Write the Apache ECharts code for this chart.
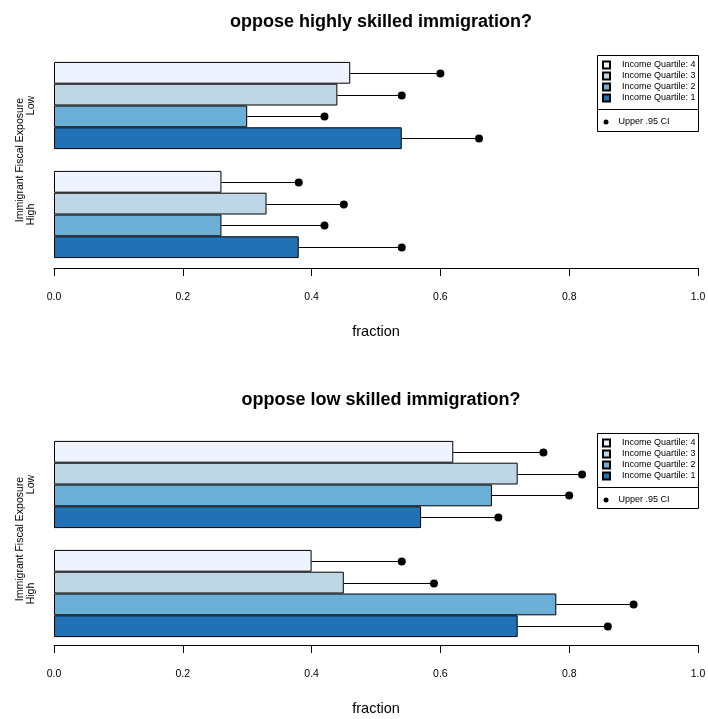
<!DOCTYPE html>
<html>
<head>
<meta charset="utf-8">
<script src="https://cdn.jsdelivr.net/npm/echarts@6/dist/echarts.min.js"></script>
<style>
  html, body { margin: 0; padding: 0; background: #fff; }
  #chart { width: 708px; height: 719px; }
</style>
</head>
<body>
<div id="chart"></div>
<script>
// ---------- data ----------
const categories = ['High', 'Low'];
const quartiles = ['Income Quartile: 4', 'Income Quartile: 3', 'Income Quartile: 2', 'Income Quartile: 1'];
const ciName = 'Upper .95 CI';
const titles = ['oppose highly skilled immigration?', 'oppose low skilled immigration?'];
const xTicks = [0, 0.2, 0.4, 0.6, 0.8, 1.0];

// fraction per quartile (rows: Q4, Q3, Q2, Q1), columns follow categories [High, Low]
const highlyValues = [
  [0.26, 0.46],
  [0.33, 0.44],
  [0.26, 0.30],
  [0.38, 0.54]
];
const highlyUpper = [
  [0.38, 0.60],
  [0.45, 0.54],
  [0.42, 0.42],
  [0.54, 0.66]
];
const lowValues = [
  [0.40, 0.62],
  [0.45, 0.72],
  [0.78, 0.68],
  [0.72, 0.57]
];
const lowUpper = [
  [0.54, 0.76],
  [0.59, 0.82],
  [0.90, 0.80],
  [0.86, 0.69]
];

// ---------- styles ----------
const colors = ['#eff3ff', '#bdd7e7', '#6baed6', '#2171b5'];
const FONT = '"Liberation Sans", Arial, Helvetica, sans-serif';
const CAT_GAP = 0.2;

const chart = echarts.init(document.getElementById('chart'), null, { renderer: 'canvas' });

const panels = [
  { values: highlyValues, upper: highlyUpper, gridTop: 51, axisOffset: -1, box: [597.5, 55.5, 101, 76, 109.5], titleTop: 8 },
  { values: lowValues, upper: lowUpper, gridTop: 430, axisOffset: -3, box: [597.5, 433.5, 101, 75, 487.5], titleTop: 386 }
];

const grids = [], xAxes = [], yAxes = [], series = [], legends = [], titleComps = [], graphics = [];

function renderCI(params, api) {
  const cat = api.value(0);
  const v = api.value(1);
  const up = api.value(2);
  const q = api.value(3);
  const band = api.size([0, 1])[1];
  const bw = band * (1 - CAT_GAP) / quartiles.length;
  const start = api.coord([v, cat]);
  const end = api.coord([up, cat]);
  const y = Math.round(start[1] - band * (1 - CAT_GAP) / 2 + bw * (q + 0.5)) + 0.5;
  return {
    type: 'group',
    children: [
      { type: 'line', shape: { x1: start[0], y1: y, x2: end[0], y2: y }, style: { stroke: '#000', lineWidth: 1 } },
      { type: 'circle', shape: { cx: end[0], cy: y, r: 4 }, style: { fill: '#000' } }
    ]
  };
}

panels.forEach((p, gi) => {
  grids.push({ left: 54, right: 10, top: p.gridTop, height: 218, containLabel: false, outerBoundsMode: 'none' });
  xAxes.push({
    type: 'value', gridIndex: gi, min: 0, max: 1, interval: 0.2, offset: p.axisOffset,
    name: 'fraction', nameLocation: 'middle', nameGap: 56, nameMoveOverlap: false,
    nameTextStyle: { fontFamily: FONT, fontSize: 14.5, color: '#000' },
    axisLine: { show: true, lineStyle: { color: '#000', width: 1 } },
    axisTick: { show: true, length: 8, lineStyle: { color: '#000' } },
    axisLabel: { margin: 24, fontFamily: FONT, fontSize: 10.5, color: '#000',
      formatter: v => xTicks.includes(+v.toFixed(1)) ? v.toFixed(1) : '' },
    splitLine: { show: false }
  });
  yAxes.push({
    type: 'category', gridIndex: gi, data: categories,
    name: 'Immigrant Fiscal Exposure', nameLocation: 'middle', nameGap: 28, nameMoveOverlap: false,
    nameTextStyle: { fontFamily: FONT, fontSize: 10.5, color: '#000' },
    axisLine: { show: false }, axisTick: { show: false },
    axisLabel: { rotate: 90, margin: 17, fontFamily: FONT, fontSize: 10.5, color: '#000' },
    splitLine: { show: false }
  });
  quartiles.forEach((q, qi) => {
    series.push({
      type: 'bar', name: q, xAxisIndex: gi, yAxisIndex: gi,
      data: p.values[qi],
      barGap: '0%', barCategoryGap: (CAT_GAP * 100) + '%',
      itemStyle: { color: colors[qi], borderColor: '#000', borderWidth: 1 },
      emphasis: { disabled: true },
      animation: false
    });
  });
  const ciData = [];
  quartiles.forEach((q, qi) => {
    categories.forEach((c, ci) => {
      ciData.push([ci, p.values[qi][ci], p.upper[qi][ci], qi]);
    });
  });
  series.push({
    type: 'custom', name: ciName, xAxisIndex: gi, yAxisIndex: gi,
    renderItem: renderCI, data: ciData,
    encode: { x: [1, 2], y: 0 },
    itemStyle: { color: '#000' },
    animation: false, z: 1
  });
  const b = p.box;
  legends.push({
    orient: 'vertical', left: 602, top: b[1] + 5, padding: 0,
    itemWidth: 7, itemHeight: 7, itemGap: 2, icon: 'rect',
    data: quartiles,
    selectedMode: false,
    textStyle: { fontFamily: FONT, fontSize: 9, color: '#000', padding: [0, 0, 0, 7] }
  });
  legends.push({
    orient: 'vertical', left: 603.5, top: b[4] + 8, padding: 0,
    itemWidth: 5, itemHeight: 5,
    data: [{ name: ciName, icon: 'circle' }],
    selectedMode: false,
    textStyle: { fontFamily: FONT, fontSize: 9, color: '#000', padding: [0, 0, 0, 5] }
  });
  titleComps.push({
    text: titles[gi], left: 376, top: p.titleTop, textAlign: 'center',
    textStyle: { fontFamily: FONT, fontSize: 18, fontWeight: 'bold', color: '#000' }
  });
  graphics.push({
    type: 'rect', shape: { x: b[0], y: b[1], width: b[2], height: b[3] },
    style: { fill: 'none', stroke: '#000', lineWidth: 1 }, z: 10
  });
  graphics.push({
    type: 'line', shape: { x1: b[0], y1: b[4], x2: b[0] + b[2], y2: b[4] },
    style: { stroke: '#000', lineWidth: 1 }, z: 10
  });
});

chart.setOption({
  animation: false,
  backgroundColor: '#fff',
  title: titleComps,
  grid: grids,
  xAxis: xAxes,
  yAxis: yAxes,
  legend: legends,
  series: series,
  graphic: graphics
});
</script>
</body>
</html>
